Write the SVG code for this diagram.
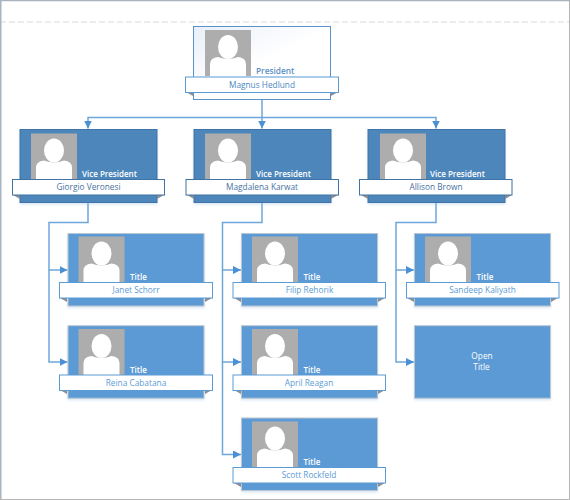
<svg xmlns="http://www.w3.org/2000/svg" width="570" height="500" viewBox="0 0 570 500">
<style>
text{font-family:"Open Sans","Liberation Sans",sans-serif;font-size:8.3px}
.white{fill:#fff}
.role{fill:#fff;font-weight:600;font-size:8px}
.name{text-anchor:middle;fill:#5b9bd5}
.vpname{text-anchor:middle;fill:#47729f}
.conn{fill:none;stroke:#6ea6da;stroke-width:1.5}
.banner{fill:#fff;stroke:#5b9bd5;stroke-width:1}
.vpbanner{fill:#fff;stroke:#3f73a6;stroke-width:1}
.fold{fill:#8a8f96}
.box{fill:#5b9ad5;stroke:#bcc6d0;stroke-width:1;filter:url(#sh)}
.vpbox{fill:#4d86ba;stroke:#3f73a6;stroke-width:1;filter:url(#sh)}
</style>
<defs>
<filter id="sh" x="-5%" y="-10%" width="110%" height="125%"><feDropShadow dx="0" dy="1.5" stdDeviation="1" flood-color="#9dc3e6" flood-opacity=".4"/></filter>
<linearGradient id="pg" x1="0" y1="0" x2="1" y2="1"><stop offset="0" stop-color="#e9eff9"/><stop offset=".5" stop-color="#fff"/></linearGradient>
<marker id="arrow" markerUnits="userSpaceOnUse" markerWidth="9" markerHeight="9" refX="8" refY="4" orient="auto"><path d="M0 0L8 4L0 8Z" fill="#4a90d2"/></marker>
<g id="photo">
<rect width="46" height="46" fill="#adadad"/>
<ellipse cx="23" cy="17" rx="10" ry="12" fill="#fff"/>
<path d="M5 46V34Q5 28 13 27Q18 29 23 29Q28 29 33 27Q41 28 41 34V46Z" fill="#fff"/>
</g>
</defs>
<rect width="570" height="500" fill="#fff"/>
<path d="M0 22H570" stroke="#e6e6e6" stroke-width="1.5" stroke-dasharray="6 3"/>
<path d="M0 .5H570M.75 0V500" stroke="#a9b4c0" stroke-width="1.5" fill="none"/>
<path d="M569.500 0V500M0 499.500H570" stroke="#b5b5b5" fill="none"/>

<g id="connectors">
<path class="conn" d="M262 100V128.500" marker-end="url(#arrow)"/>
<path class="conn" d="M262 117.500H88V128.500" marker-end="url(#arrow)"/>
<path class="conn" d="M262 117.500H436V128.500" marker-end="url(#arrow)"/>
<path class="conn" d="M88 203V222.500H49V270H67.500" marker-end="url(#arrow)"/>
<path class="conn" d="M49 270V362H67.500" marker-end="url(#arrow)"/>
<path class="conn" d="M262 203V222.500H222.500V270H241" marker-end="url(#arrow)"/>
<path class="conn" d="M222.500 270V362H241" marker-end="url(#arrow)"/>
<path class="conn" d="M222.500 362V454.500H241" marker-end="url(#arrow)"/>
<path class="conn" d="M436 203V222.500H396V270H414" marker-end="url(#arrow)"/>
<path class="conn" d="M396 270V362H414" marker-end="url(#arrow)"/>
</g>

<g id="president">
<rect x="193.500" y="26.500" width="137" height="73" fill="url(#pg)" stroke="#5b92c9"/>
<use href="#photo" x="205" y="30"/>
<text x="256" y="74" fill="#5b8fc4" font-weight="600" font-size="8">President</text>
<path class="fold" d="M186 92L193 96V92ZM338 92L331 96V92Z"/>
<rect class="banner" x="185.500" y="77" width="153" height="15.500"/>
<text class="name" x="262" y="87.500" style="fill:#4a86c0">Magnus Hedlund</text>
</g>

<g id="vp1">
<rect class="vpbox" x="20" y="129.500" width="137" height="73"/>
<use href="#photo" x="31" y="133.500"/>
<text class="role" x="82" y="177">Vice President</text>
<path class="fold" d="M13 195L20 199V195ZM164 195L157 199V195Z"/>
<rect class="vpbanner" x="12.500" y="179.500" width="152" height="15.500"/>
<text class="vpname" x="88.500" y="190">Giorgio Veronesi</text>
</g>
<g id="vp2">
<rect class="vpbox" x="194" y="129.500" width="137" height="73"/>
<use href="#photo" x="205" y="133.500"/>
<text class="role" x="256" y="177">Vice President</text>
<path class="fold" d="M187 195L194 199V195ZM338 195L331 199V195Z"/>
<rect class="vpbanner" x="186" y="179.500" width="152.500" height="15.500"/>
<text class="vpname" x="262" y="190">Magdalena Karwat</text>
</g>
<g id="vp3">
<rect class="vpbox" x="368" y="129.500" width="137" height="73"/>
<use href="#photo" x="380" y="133.500"/>
<text class="role" x="430" y="177">Vice President</text>
<path class="fold" d="M361 195L368 199V195ZM512 195L505 199V195Z"/>
<rect class="vpbanner" x="359.500" y="179.500" width="152.500" height="15.500"/>
<text class="vpname" x="436" y="190">Allison Brown</text>
</g>

<g id="janet">
<rect class="box" x="68" y="233.500" width="136" height="72.500"/>
<use href="#photo" x="78.500" y="236.500"/>
<text class="role" x="130" y="280">Title</text>
<path class="fold" d="M60 298L67 302V298ZM212 298L205 302V298Z"/>
<rect class="banner" x="59.500" y="282.500" width="153" height="15.500"/>
<text class="name" x="136" y="293">Janet Schorr</text>
</g>
<g id="reina">
<rect class="box" x="68" y="325.700" width="136" height="72.500"/>
<use href="#photo" x="78.500" y="329"/>
<text class="role" x="130" y="372.500">Title</text>
<path class="fold" d="M60 390L67 394V390ZM212 390L205 394V390Z"/>
<rect class="banner" x="59.500" y="375" width="153" height="15.500"/>
<text class="name" x="136" y="385.500">Reina Cabatana</text>
</g>
<g id="filip">
<rect class="box" x="241.500" y="233.500" width="136" height="72.500"/>
<use href="#photo" x="252" y="236.500"/>
<text class="role" x="303.500" y="280">Title</text>
<path class="fold" d="M234 298L241 302V298ZM385 298L378 302V298Z"/>
<rect class="banner" x="233" y="282.500" width="152.500" height="15.500"/>
<text class="name" x="309.500" y="293">Filip Rehorik</text>
</g>
<g id="april">
<rect class="box" x="241.500" y="325.700" width="136" height="72.500"/>
<use href="#photo" x="252" y="329"/>
<text class="role" x="303.500" y="372.500">Title</text>
<path class="fold" d="M234 390L241 394V390ZM385 390L378 394V390Z"/>
<rect class="banner" x="233" y="375" width="152.500" height="15.500"/>
<text class="name" x="309" y="385.500">April Reagan</text>
</g>
<g id="scott">
<rect class="box" x="241.500" y="418" width="136" height="72.500"/>
<use href="#photo" x="252" y="421.500"/>
<text class="role" x="303.500" y="465">Title</text>
<path class="fold" d="M234 483L241 487V483ZM385 483L378 487V483Z"/>
<rect class="banner" x="233" y="467.500" width="152.500" height="15.500"/>
<text class="name" x="309" y="478">Scott Rockfeld</text>
</g>
<g id="sandeep">
<rect class="box" x="414.500" y="233.500" width="136" height="72.500"/>
<use href="#photo" x="425" y="236.500"/>
<text class="role" x="476.500" y="280">Title</text>
<path class="fold" d="M407 298L414 302V298ZM558 298L551 302V298Z"/>
<rect class="banner" x="406.500" y="282.500" width="152.500" height="15.500"/>
<text class="name" x="482.500" y="293">Sandeep Kaliyath</text>
</g>
<g id="open">
<rect class="box" x="414.500" y="325.700" width="136" height="72.500"/>
<text class="white" x="482" y="359" text-anchor="middle">Open</text>
<text class="white" x="481.500" y="370" text-anchor="middle">Title</text>
</g>
</svg>
